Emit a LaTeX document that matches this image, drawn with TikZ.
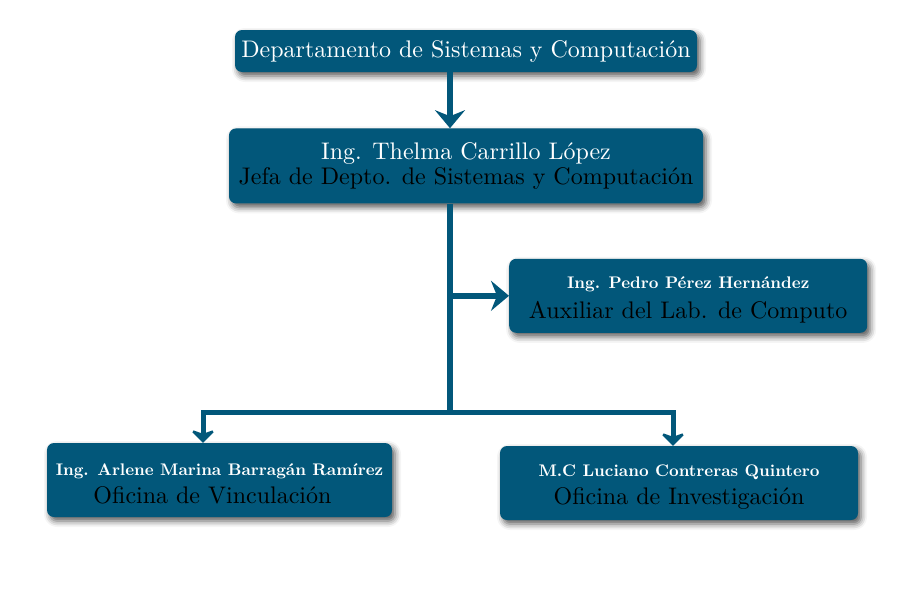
\documentclass[tikz,border=0pt]{standalone}
\usepackage{fontspec}
\setmainfont{lmroman10-regular.otf}[BoldFont=lmroman10-bold.otf]
\usetikzlibrary{positioning, arrows.meta, calc, shadows.blur}

\definecolor{deptblue}{RGB}{2,87,122}

\begin{document}
\begin{tikzpicture}[
    x=1pt, y=1pt,
    unit/.style={
        fill=deptblue, rounded corners=7pt,
        align=center, inner sep=0pt,
        blur shadow={shadow xshift=3pt, shadow yshift=-4pt,
                     shadow blur radius=6pt, shadow opacity=65}
    },
    arrow/.style={-{Stealth[length=18pt, width=30pt, inset=6pt]},
        draw=deptblue, line width=6pt},
    link/.style={draw=deptblue, line width=6pt}
]
\useasboundingbox (0,0) rectangle (900,-600);

% ===================== UNITS =====================
\node[unit, minimum width=462pt, minimum height=42pt, text=white,
      font=\fontsize{24}{26}\selectfont] (depto) at (466,-51)
{Departamento de Sistemas y Computación};

\node[unit, below=56pt of depto, minimum width=474pt, minimum height=75pt,
      font=\fontsize{24}{25}\selectfont] (jefa)
{\textcolor{white}{Ing. Thelma Carrillo López}\\
 Jefa de Depto. de Sistemas y Computación};

\node[unit, below right=55pt and 43pt of jefa.south, minimum width=358pt,
      minimum height=74pt, font=\fontsize{24}{30}\selectfont] (aux)
{\rule{0pt}{20pt}\textcolor{white}{\fontsize{16.8}{20}\selectfont\bfseries Ing. Pedro Pérez Hernández}\\
 Auxiliar del Lab. de Computo};

\node[unit, minimum width=345pt, minimum height=74pt,
      font=\fontsize{24}{28}\selectfont] (vinc) at (219.5,-480)
{\rule{0pt}{20pt}\textcolor{white}{\fontsize{16.8}{20}\selectfont\bfseries Ing. Arlene Marina Barragán Ramírez}\\
 Oficina de Vinculación\hspace*{14pt}};

\node[unit, minimum width=358pt, minimum height=74pt,
      font=\fontsize{24}{28}\selectfont] (inv) at (679,-483)
{\rule{0pt}{20pt}\textcolor{white}{\fontsize{16.8}{20}\selectfont\bfseries M.C Luciano Contreras Quintero}\\
 Oficina de Investigación};

% ===================== TRUNK =====================
\coordinate (trunk) at ($(depto.south)+(-16,0)$);
\coordinate (split) at (trunk |- 0,-412);

\draw[arrow] (trunk) -- (trunk |- jefa.north);
\draw[link] (trunk |- jefa.south) -- (split);
\draw[arrow] (trunk |- aux.west) -- (aux.west);

% ===================== LOWER BRANCHES =====================
\draw[arrow, {Stealth[length=14pt, width=28pt, inset=5pt]}-{Stealth[length=14pt, width=28pt, inset=5pt]},
      line width=5pt, miter limit=4]
  ($(vinc.north)+(-16.5,0)$) |- (split) -| ($(inv.north)+(-6,0)$);

\end{tikzpicture}
\end{document}
